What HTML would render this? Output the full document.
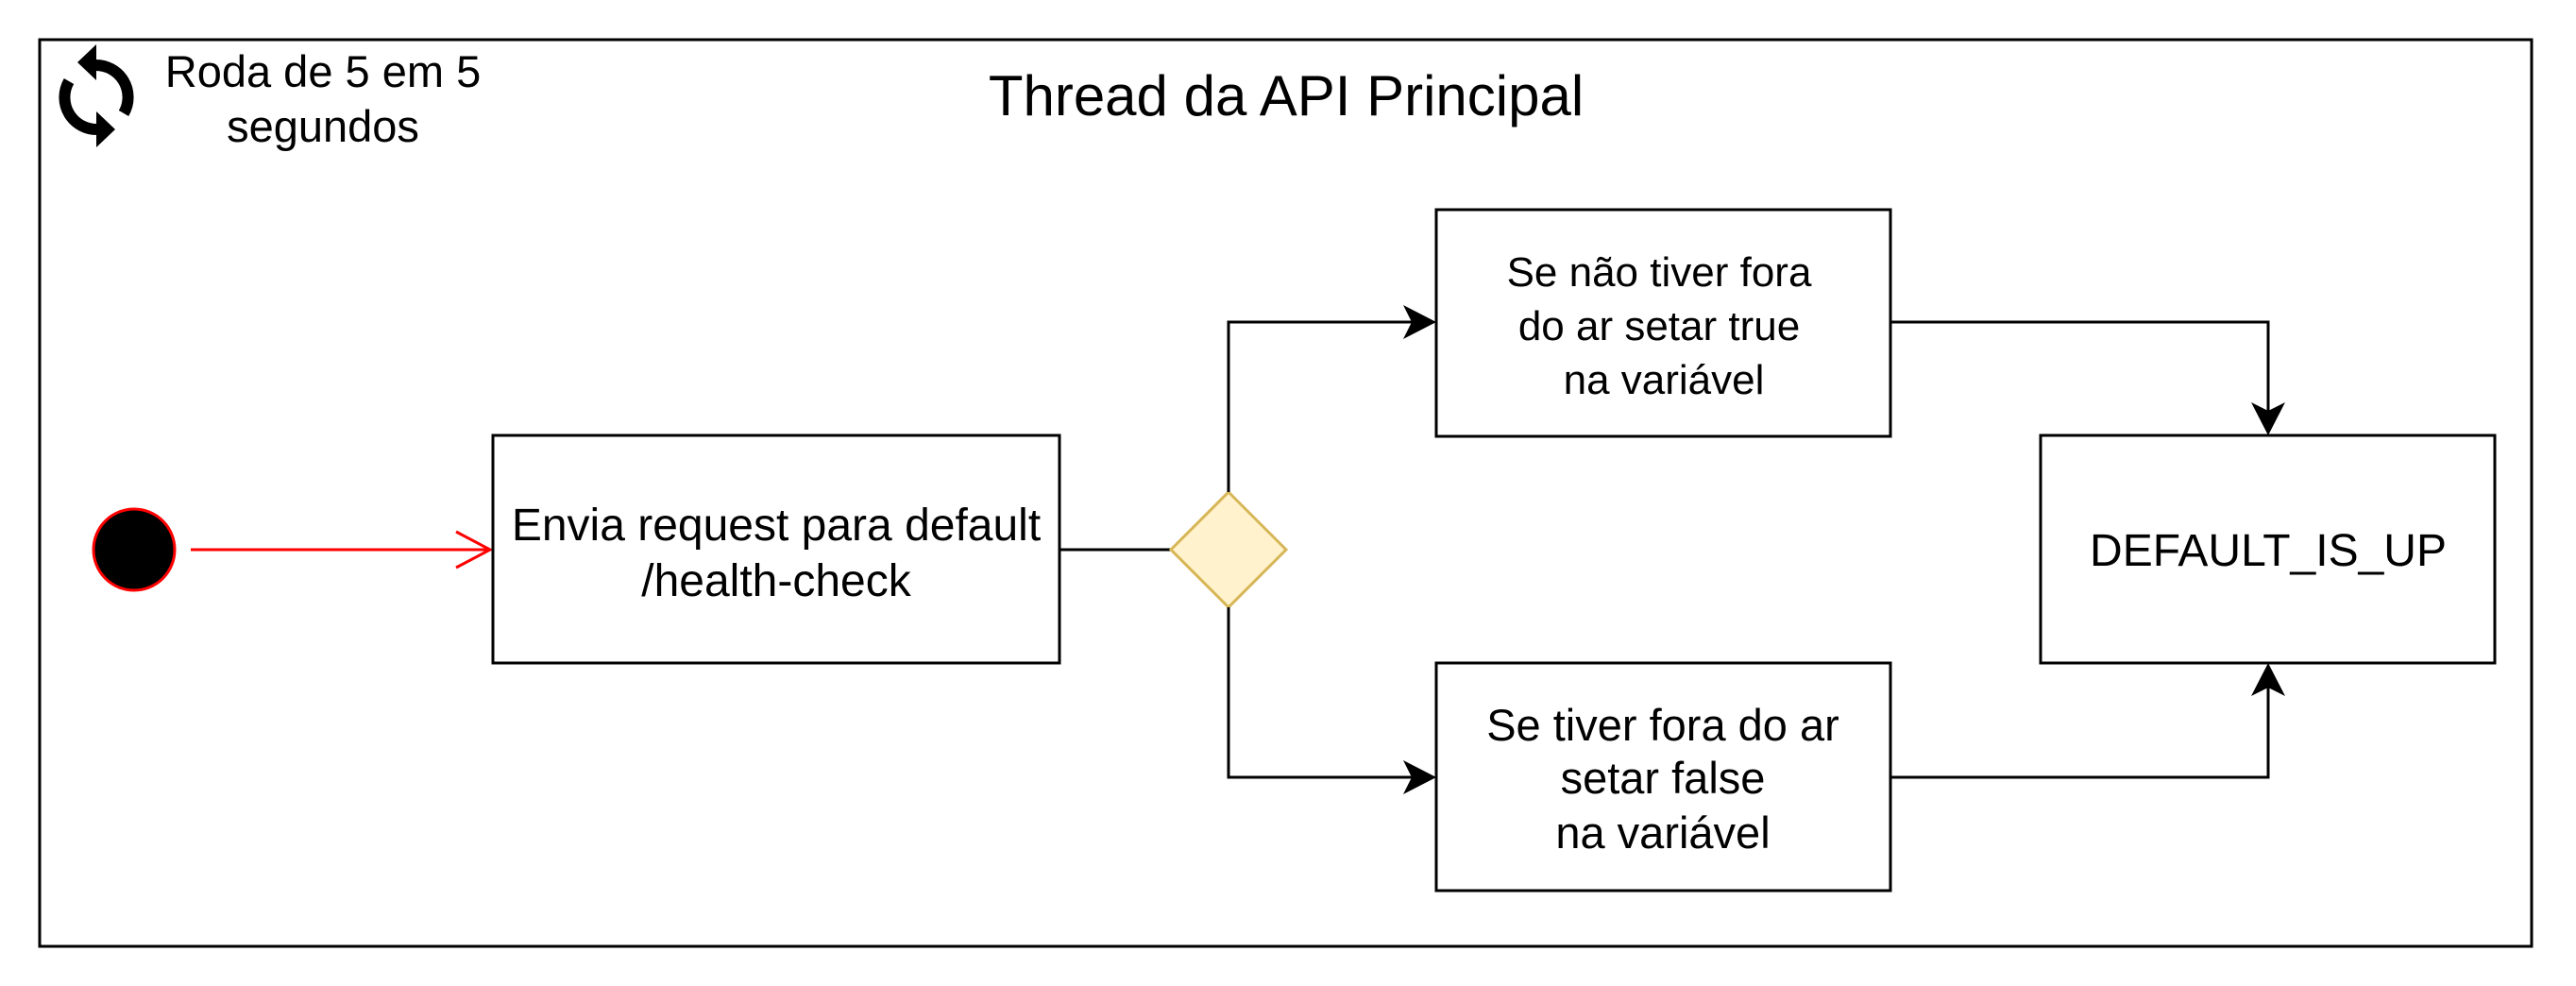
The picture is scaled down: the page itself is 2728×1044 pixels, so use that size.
<!DOCTYPE html>
<html><head><meta charset="utf-8"><style>
html,body{margin:0;padding:0;background:#fff;}
svg{display:block;}
text{font-family:"Liberation Sans",Arial,sans-serif;fill:#000;}
</style></head><body>
<svg width="2728" height="1044" viewBox="0 0 2728 1044" xmlns="http://www.w3.org/2000/svg">
<rect x="0" y="0" width="2728" height="1044" fill="#fff"/>
<rect x="42" y="42" width="2639" height="960" fill="none" stroke="#000" stroke-width="3"/>
<text x="1362" y="122" font-size="60" text-anchor="middle">Thread da API Principal</text>
<g fill="none" stroke="#000" stroke-width="12">
<path d="M100 69 A34 34 0 0 1 131 120"/>
<path d="M73 86 A34 34 0 0 0 104 137"/>
</g>
<polygon points="82,66 102,47 102,85" fill="#000"/>
<polygon points="122,137 102,118 102,156" fill="#000"/>
<text font-size="47" text-anchor="middle"><tspan x="342" y="92">Roda de 5 em 5</tspan><tspan x="342" y="150">segundos</tspan></text>
<circle cx="142" cy="582" r="43" fill="#000" stroke="#ff0000" stroke-width="3"/>
<line x1="202" y1="582" x2="518" y2="582" stroke="#ff0000" stroke-width="3"/>
<polyline points="483,563 519,582 483,601" fill="none" stroke="#ff0000" stroke-width="3"/>
<rect x="522" y="461" width="600" height="241" fill="#fff" stroke="#000" stroke-width="3"/>
<text font-size="48" text-anchor="middle"><tspan x="822" y="572">Envia request para default</tspan><tspan x="822" y="631">/health-check</tspan></text>
<line x1="1122" y1="582" x2="1240" y2="582" stroke="#000" stroke-width="3"/>
<polygon points="1301,521 1362,582 1301,643 1240,582" fill="#fff2cc" stroke="#d6b656" stroke-width="3"/>
<polyline points="1301,521 1301,341 1500,341" fill="none" stroke="#000" stroke-width="3"/>
<polyline points="1301,643 1301,823 1500,823" fill="none" stroke="#000" stroke-width="3"/>
<polygon points="1521,341 1486,323 1495,341 1486,359" fill="#000"/>
<polygon points="1521,823 1486,805 1495,823 1486,841" fill="#000"/>
<rect x="1521" y="222" width="481" height="240" fill="#fff" stroke="#000" stroke-width="3"/>
<text font-size="44" text-anchor="middle"><tspan x="1757" y="303">Se não tiver fora</tspan><tspan x="1757" y="360">do ar setar true</tspan><tspan x="1762" y="417">na variável</tspan></text>
<rect x="1521" y="702" width="481" height="241" fill="#fff" stroke="#000" stroke-width="3"/>
<text font-size="47" text-anchor="middle"><tspan x="1761" y="784">Se tiver fora do ar</tspan><tspan x="1761" y="840">setar false</tspan><tspan x="1761" y="898">na variável</tspan></text>
<rect x="2161" y="461" width="481" height="241" fill="#fff" stroke="#000" stroke-width="3"/>
<text x="2402" y="599" font-size="48" text-anchor="middle">DEFAULT_IS_UP</text>
<polyline points="2002,341 2402,341 2402,440" fill="none" stroke="#000" stroke-width="3"/>
<polygon points="2402,461 2384,426 2402,435 2420,426" fill="#000"/>
<polyline points="2002,823 2402,823 2402,722" fill="none" stroke="#000" stroke-width="3"/>
<polygon points="2402,702 2384,737 2402,728 2420,737" fill="#000"/>
</svg>
</body></html>
